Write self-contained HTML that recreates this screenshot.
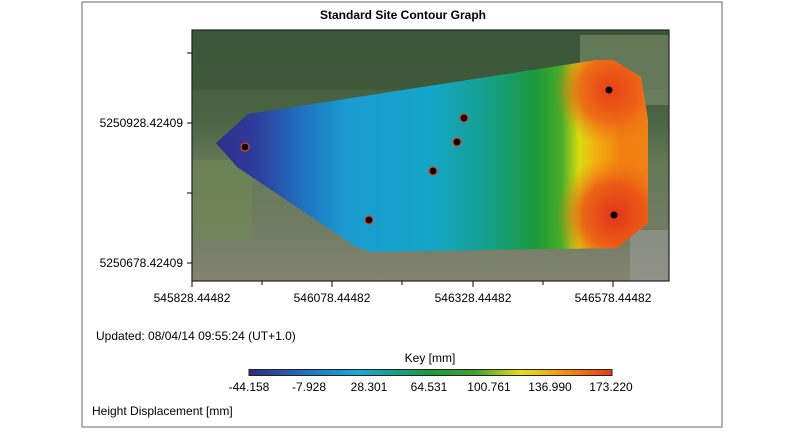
<!DOCTYPE html>
<html><head><meta charset="utf-8"><style>
html,body{margin:0;padding:0;background:#fff;}
body{width:800px;height:428px;overflow:hidden;font-family:"Liberation Sans",Arial,sans-serif;}
</style></head><body>
<svg width="800" height="428" xmlns="http://www.w3.org/2000/svg" font-family="Liberation Sans, Arial, sans-serif">
<defs>
<linearGradient id="bg" x1="0" y1="0" x2="0" y2="1">
<stop offset="0" stop-color="#3f5a3c"/><stop offset="0.35" stop-color="#4a6443"/>
<stop offset="0.55" stop-color="#667a58"/><stop offset="0.8" stop-color="#727c64"/><stop offset="1" stop-color="#83846f"/>
</linearGradient>
<linearGradient id="cg" gradientUnits="userSpaceOnUse" x1="216" y1="0" x2="648" y2="0">
<stop offset="0" stop-color="#2d2f8a"/>
<stop offset="0.09" stop-color="#2e3b9a"/>
<stop offset="0.2" stop-color="#1f72c0"/>
<stop offset="0.3" stop-color="#1a9ad0"/>
<stop offset="0.5" stop-color="#14a6c8"/>
<stop offset="0.62" stop-color="#14a090"/>
<stop offset="0.74" stop-color="#1a9a3a"/>
<stop offset="0.8" stop-color="#48ad28"/>
<stop offset="0.84" stop-color="#d8dc10"/>
<stop offset="0.88" stop-color="#f3b010"/>
<stop offset="0.94" stop-color="#f08010"/>
<stop offset="1" stop-color="#ef8214"/>
</linearGradient>
<radialGradient id="r1" cx="609" cy="90" r="55" gradientUnits="userSpaceOnUse">
<stop offset="0" stop-color="#e8401a" stop-opacity="1"/><stop offset="0.55" stop-color="#ec5a16" stop-opacity="0.8"/><stop offset="1" stop-color="#ef7a12" stop-opacity="0"/>
</radialGradient>
<radialGradient id="r2" cx="614" cy="215" r="58" gradientUnits="userSpaceOnUse">
<stop offset="0" stop-color="#e3321c" stop-opacity="1"/><stop offset="0.55" stop-color="#ea5016" stop-opacity="0.8"/><stop offset="1" stop-color="#ef7a12" stop-opacity="0"/>
</radialGradient>
<clipPath id="cp"><polygon points="216,143 248,114 597,60 613,60 641,77 648,120 648,223 617,248 372,252 356,247 237,167"/></clipPath>
</defs>
<rect x="82" y="2" width="640" height="425" fill="#fff" stroke="#808080" stroke-width="1.2"/>
<text x="403" y="19" font-size="12" font-weight="bold" text-anchor="middle">Standard Site Contour Graph</text>
<rect x="192" y="30" width="477" height="251" fill="url(#bg)"/>
<rect x="192" y="30" width="477" height="60" fill="#3a5437" opacity="0.6"/>
<rect x="192" y="160" width="60" height="80" fill="#6f8c52" opacity="0.5"/>
<rect x="580" y="35" width="89" height="70" fill="#7f906e" opacity="0.6"/>
<rect x="630" y="230" width="39" height="51" fill="#9a9a98" opacity="0.6"/>
<g clip-path="url(#cp)">
<rect x="210" y="55" width="445" height="205" fill="url(#cg)"/>
<rect x="540" y="40" width="120" height="220" fill="url(#r1)"/>
<rect x="540" y="40" width="120" height="220" fill="url(#r2)"/>
</g>
<rect x="192" y="30" width="477" height="251" fill="none" stroke="#222" stroke-width="1.2"/>
<g stroke="#000" stroke-width="1">
<line x1="187" y1="53" x2="192" y2="53"/><line x1="187" y1="123" x2="192" y2="123"/>
<line x1="187" y1="193" x2="192" y2="193"/><line x1="187" y1="263" x2="192" y2="263"/>
<line x1="192" y1="281" x2="192" y2="287"/><line x1="262" y1="281" x2="262" y2="285"/>
<line x1="332" y1="281" x2="332" y2="287"/><line x1="402" y1="281" x2="402" y2="285"/>
<line x1="473" y1="281" x2="473" y2="287"/><line x1="543" y1="281" x2="543" y2="285"/>
<line x1="613" y1="281" x2="613" y2="287"/>
</g>
<g font-size="12" fill="#000">
<text x="183" y="127" text-anchor="end">5250928.42409</text>
<text x="183" y="267" text-anchor="end">5250678.42409</text>
<text x="192" y="302" text-anchor="middle">545828.44482</text>
<text x="332" y="302" text-anchor="middle">546078.44482</text>
<text x="473" y="302" text-anchor="middle">546328.44482</text>
<text x="613" y="302" text-anchor="middle">546578.44482</text>
</g>
<g fill="#000" stroke="#e0401a" stroke-width="1.3">
<circle cx="245" cy="147" r="4"/><circle cx="369" cy="220" r="4"/><circle cx="433" cy="171" r="4"/>
<circle cx="457" cy="142" r="4"/><circle cx="464" cy="118" r="4"/>
<circle cx="609" cy="90" r="3.5" stroke="none"/><circle cx="614" cy="215" r="3.5" stroke="none"/>
</g>
<text x="96" y="340" font-size="12">Updated: 08/04/14 09:55:24 (UT+1.0)</text>
<text x="430" y="362" font-size="12" text-anchor="middle">Key [mm]</text>
<defs><linearGradient id="kg" x1="0" y1="0" x2="1" y2="0">
<stop offset="0" stop-color="#2d2a80"/><stop offset="0.17" stop-color="#1f78c8"/><stop offset="0.3" stop-color="#18a8d8"/>
<stop offset="0.5" stop-color="#1a9a3a"/><stop offset="0.62" stop-color="#40a030"/><stop offset="0.75" stop-color="#e8e010"/>
<stop offset="0.87" stop-color="#f39010"/><stop offset="1" stop-color="#e83a1a"/></linearGradient></defs>
<rect x="249" y="369.5" width="363" height="6" fill="url(#kg)" stroke="#222" stroke-width="1"/>
<g font-size="12" text-anchor="middle">
<text x="249" y="391">-44.158</text><text x="309" y="391">-7.928</text><text x="369" y="391">28.301</text>
<text x="429" y="391">64.531</text><text x="489" y="391">100.761</text><text x="550" y="391">136.990</text>
<text x="611" y="391">173.220</text>
</g>
<text x="92" y="415" font-size="12">Height Displacement [mm]</text>
</svg>
</body></html>
